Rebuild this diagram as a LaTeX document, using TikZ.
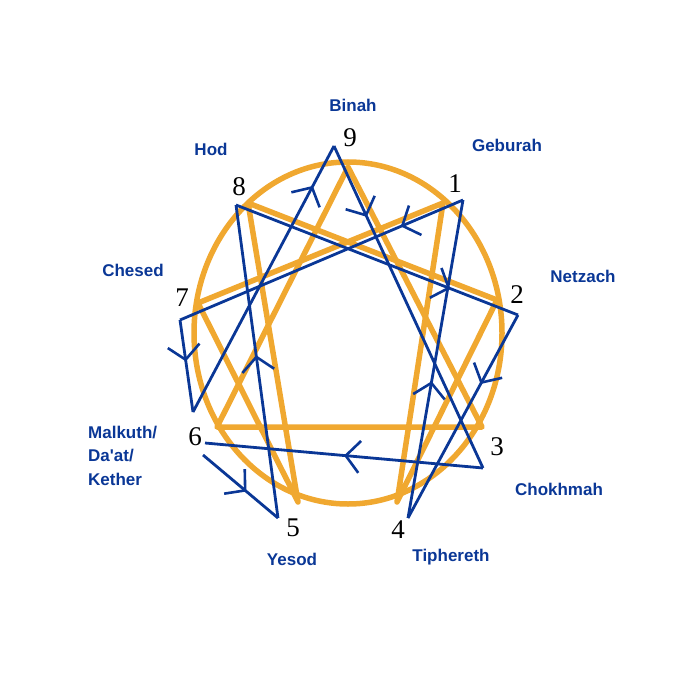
\documentclass[tikz,border=0pt]{standalone}
\usepackage{fontspec}
\setmainfont{Liberation Serif}
\newfontfamily\lab{Liberation Sans}
\usetikzlibrary{decorations.markings,arrows.meta}
\definecolor{bl}{HTML}{0A3796}
\definecolor{og}{HTML}{F0A830}
\begin{document}
\begin{tikzpicture}[x=1pt,y=-1pt,
  oline/.style={og,line width=5.5pt},
  bline/.style={bl,line width=2.8pt,line join=miter},
  arr/.style={postaction={decorate,decoration={markings,mark=at position #1 with {\arrow[bl,line width=2.6pt]{Straight Barb[length=14pt,width=32pt]}}}}},
  num/.style={font=\fontsize{27}{27}\selectfont,inner sep=0pt},
  lbl/.style={font=\lab\bfseries\fontsize{17}{19}\selectfont,text=bl,inner sep=0pt}]
\useasboundingbox (0,0) rectangle (700,700);
% orange
\draw[oline] (348,333) ellipse [x radius=154, y radius=171];
\coordinate (o9) at (348,167); \coordinate (o1) at (443,203); \coordinate (o2) at (497,300);
\coordinate (o3) at (482,427); \coordinate (o4) at (397,502); \coordinate (o5) at (298,502);
\coordinate (o6) at (217,427); \coordinate (o7) at (198,303); \coordinate (o8) at (248,203);
\draw[oline,line join=round] (o9)--(o3)--(o6)--cycle;
\draw[oline,line join=round] (o1)--(o4)--(o2)--(o8)--(o5)--(o7)--cycle;
% blue
\coordinate (b9) at (334,146); \coordinate (b1) at (463,200); \coordinate (b2) at (518,315);
\coordinate (b3) at (483,468); \coordinate (b4) at (408,518); \coordinate (b5) at (278,518);
\coordinate (b6) at (205,443); \coordinate (b6b) at (203,455); \coordinate (b7) at (180,320);
\coordinate (b8) at (236,205); \coordinate (bk) at (193,412);
\draw[bline,arr=0.22] (b9)--(b3);
\draw[bline,arr=0.5] (b3)--(b6);
\draw[bline,arr=0.58] (b6b)--(b5);
\draw[bline,arr=0.52] (b5)--(b8);
\draw[bline,arr=0.76] (b8)--(b2);
\draw[bline,arr=0.34] (b2)--(b4);
\draw[bline,arr=0.43] (b4)--(b1);
\draw[bline,arr=0.22] (b1)--(b7);
\draw[bline,arr=0.45] (b7)--(bk);
\draw[bline,arr=0.85] (bk)--(b9);
% numbers
\node[num] (n9) at (350,138) {9};
\node[num] (n1) at (455,184) {1};
\node[num] (n2) at (517,295) {2};
\node[num] (n3) at (497,447) {3};
\node[num] (n4) at (398,530) {4};
\node[num] (n5) at (293,528) {5};
\node[num] (n6) at (195,437) {6};
\node[num] (n7) at (182,298) {7};
\node[num] (n8) at (239,187) {8};
% labels
\node[lbl] (l9) at (353,105) {Binah};
\node[lbl] (l1) at (507,145) {Geburah};
\node[lbl] (l2) at (583,276) {Netzach};
\node[lbl] (l3) at (559,489) {Chokhmah};
\node[lbl] (l4) at (451,557) {Tiphereth};
\node[lbl] (l5) at (292,559) {Yesod};
\node[lbl,anchor=west] (l6a) at (88,433) {Malkuth/};
\node[lbl,anchor=west] (l6b) at (88,456) {Da'at/};
\node[lbl,anchor=west] (l6c) at (88,479) {Kether};
\node[lbl] (l7) at (133,270) {Chesed};
\node[lbl] (l8) at (211,149) {Hod};
\end{tikzpicture}
\end{document}
